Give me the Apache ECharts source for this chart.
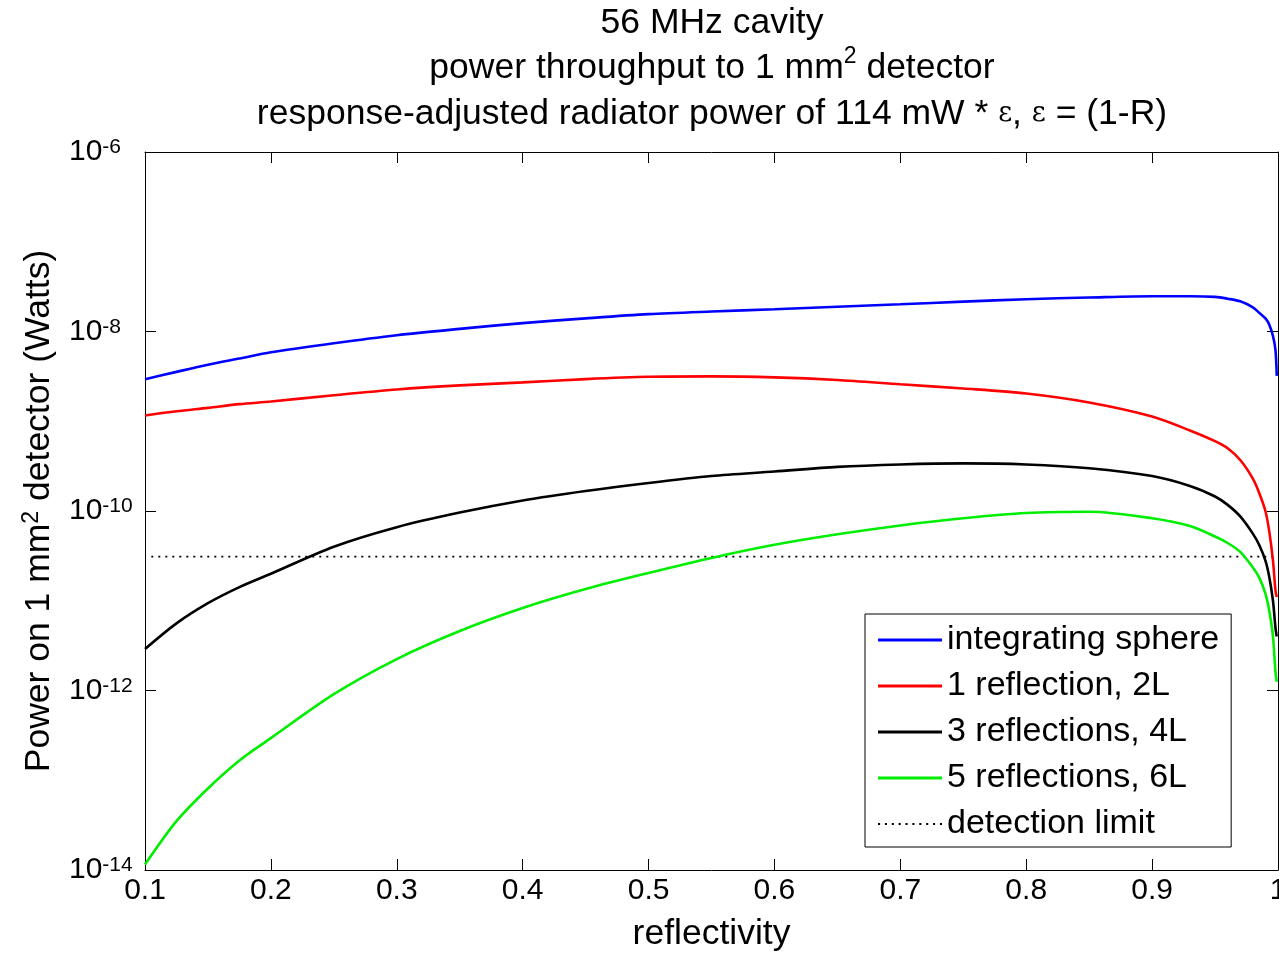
<!DOCTYPE html>
<html><head><meta charset="utf-8">
<script src="https://cdn.jsdelivr.net/npm/echarts@6/dist/echarts.min.js"></script>
<style>html,body{margin:0;padding:0;background:#fff}#c{width:1279px;height:953px}</style>
</head><body><div id="c"></div>
<script>
// ---- data ----
const reflectivity = [0.1, 0.125, 0.15, 0.175, 0.2, 0.25, 0.3, 0.35, 0.4, 0.45, 0.5, 0.55, 0.6, 0.65, 0.7, 0.75, 0.8, 0.85, 0.9, 0.93, 0.95, 0.96, 0.97, 0.98, 0.985, 0.99, 0.993, 0.996, 0.998, 0.999];
const integratingSphere = [2.93e-9, 3.55e-9, 4.27e-9, 5.0e-9, 5.86e-9, 7.4e-9, 9.1e-9, 1.07e-8, 1.24e-8, 1.40e-8, 1.56e-8, 1.67e-8, 1.77e-8, 1.89e-8, 2.01e-8, 2.15e-8, 2.29e-8, 2.39e-8, 2.47e-8, 2.47e-8, 2.43e-8, 2.32e-8, 2.17e-8, 1.86e-8, 1.62e-8, 1.40e-8, 1.20e-8, 8.9e-9, 6.2e-9, 3.2e-9];
const oneReflection = [1.16e-9, 1.29e-9, 1.41e-9, 1.55e-9, 1.66e-9, 1.95e-9, 2.26e-9, 2.51e-9, 2.71e-9, 2.95e-9, 3.13e-9, 3.16e-9, 3.08e-9, 2.88e-9, 2.58e-9, 2.32e-9, 2.04e-9, 1.62e-9, 1.13e-9, 7.9e-10, 6.0e-10, 5.0e-10, 3.7e-10, 2.3e-10, 1.6e-10, 1.0e-10, 6.0e-11, 2.8e-11, 1.3e-11, 1.1e-11];
const threeReflections = [2.9e-12, 5.6e-12, 9.4e-12, 1.42e-11, 2.0e-11, 4.0e-11, 6.6e-11, 9.6e-11, 1.31e-10, 1.67e-10, 2.05e-10, 2.45e-10, 2.75e-10, 3.1e-10, 3.3e-10, 3.39e-10, 3.3e-10, 3.0e-10, 2.45e-10, 1.9e-10, 1.45e-10, 1.17e-10, 8.7e-11, 5.6e-11, 4.2e-11, 2.8e-11, 1.86e-11, 1.0e-11, 5.0e-12, 4.0e-12];
const fiveReflections = [1.15e-14, 3.5e-14, 8.1e-14, 1.66e-13, 2.95e-13, 9.1e-13, 2.24e-12, 4.6e-12, 8.3e-12, 1.35e-11, 2.04e-11, 3.0e-11, 4.2e-11, 5.5e-11, 6.9e-11, 8.3e-11, 9.5e-11, 9.8e-11, 8.3e-11, 6.8e-11, 5.2e-11, 4.4e-11, 3.5e-11, 2.35e-11, 1.82e-11, 1.2e-11, 7.8e-12, 4.0e-12, 1.6e-12, 1.25e-12];
const detectionLimitX = [0.105, 1.0];
const detectionLimitY = [3.1e-11, 3.1e-11];
const seriesNames = ['integrating sphere', '1 reflection, 2L', '3 reflections, 4L', '5 reflections, 6L', 'detection limit'];
const xTickLabels = ['0.1', '0.2', '0.3', '0.4', '0.5', '0.6', '0.7', '0.8', '0.9', '1'];
const titleLines = ['56 MHz cavity', 'power throughput to 1 mm{s|2} detector', 'response-adjusted radiator power of 114 mW * {e|ε}, {e|ε} = (1-R)'];

// ---- chart ----
const F = 'Liberation Sans, Arial, Helvetica, sans-serif';
const pairs = (xs, ys) => xs.map((x, i) => [x, ys[i]]);
const colors = ['#0000ff', '#ff0000', '#000000', '#00ee00', '#000000'];
const curves = [integratingSphere, oneReflection, threeReflections, fiveReflections];

let dots = 'path://';
for (let k = 0; k < 10; k++) dots += 'M' + (k * 6.5) + ',0h2v2h-2z ';

const chart = echarts.init(document.getElementById('c'), null, {renderer: 'canvas'});
const series = curves.map((ys, i) => ({
  name: seriesNames[i], type: 'line', data: pairs(reflectivity, ys),
  symbol: 'none', showSymbol: false, smooth: 0.3,
  lineStyle: {color: colors[i], width: 2.6}, itemStyle: {color: colors[i]}, z: 2 + i
}));
series.push({
  name: seriesNames[4], type: 'line', data: pairs(detectionLimitX, detectionLimitY),
  symbol: 'none', showSymbol: false,
  lineStyle: {color: '#000', width: 1.6, type: [2, 5]}, itemStyle: {color: '#000'}, z: 1
});

const axisBase = {
  axisLine: {show: true, lineStyle: {color: '#000', width: 1}},
  axisTick: {show: true, inside: true, length: 11, lineStyle: {color: '#000'}},
  splitLine: {show: false}
};

chart.setOption({
  animation: false,
  backgroundColor: '#fff',
  title: {
    text: titleLines.join('\n'), left: 712, top: 0, textAlign: 'center', padding: 0,
    textStyle: {fontFamily: F, fontSize: 35.5, fontWeight: 'normal', color: '#000', lineHeight: 45.5,
      rich: {
        s: {fontFamily: F, fontSize: 23, lineHeight: 23, verticalAlign: 'top', color: '#000'},
        e: {fontFamily: 'DejaVu Serif, Liberation Serif, serif', fontSize: 27, color: '#000'}
      }}
  },
  grid: {left: 145, right: 1, top: 152, bottom: 83, show: false, outerBoundsMode: 'none', containLabel: false},
  legend: {
    orient: 'vertical', left: 865, top: 614,
    padding: [9, 12, 6, 13], itemGap: 12, itemWidth: 64, itemHeight: 3,
    borderColor: '#000', borderWidth: 1, backgroundColor: '#fff',
    textStyle: {fontFamily: F, fontSize: 34, color: '#000'},
    data: seriesNames.map((n, i) => ({name: n, icon: i === 4 ? dots : 'rect'}))
  },
  xAxis: [
    Object.assign({}, axisBase, {
      type: 'value', position: 'bottom', min: 0.1, max: 1.0, interval: 0.1,
      name: 'reflectivity', nameLocation: 'middle', nameGap: 46,
      nameTextStyle: {fontFamily: F, fontSize: 35.5, lineHeight: 36, color: '#000'},
      axisLabel: {fontFamily: F, fontSize: 30, color: '#000', margin: 6, showMaxLabel: true, hideOverlap: false,
        formatter: v => xTickLabels[Math.round(v * 10) - 1] || ''}
    }),
    Object.assign({}, axisBase, {
      type: 'value', position: 'top', min: 0.1, max: 1.0, interval: 0.1,
      axisLabel: {show: false}
    })
  ],
  yAxis: [
    Object.assign({}, axisBase, {
      type: 'log', logBase: 100, min: 1e-14, max: 1e-6, position: 'left',
      name: 'Power on 1 mm{s|2} detector (Watts)', nameLocation: 'middle', nameGap: 82,
      nameTextStyle: {fontFamily: F, fontSize: 35.5, color: '#000', lineHeight: 38,
        rich: {s: {fontFamily: F, fontSize: 23, lineHeight: 23, verticalAlign: 'top', color: '#000'}}},
      axisLabel: {
        align: 'left', margin: 76, color: '#000', fontFamily: F,
        formatter: v => '{b|10}{s|' + Math.round(Math.log10(v)) + '}',
        rich: {
          b: {fontFamily: F, fontSize: 30, lineHeight: 30, padding: [12, 0, 12, 0], color: '#000'},
          s: {fontFamily: F, fontSize: 21, lineHeight: 21, verticalAlign: 'top', color: '#000'}
        }
      }
    }),
    Object.assign({}, axisBase, {
      type: 'log', logBase: 100, min: 1e-14, max: 1e-6, position: 'right',
      axisLabel: {show: false}
    })
  ],
  series: series
});
</script>
</body></html>
